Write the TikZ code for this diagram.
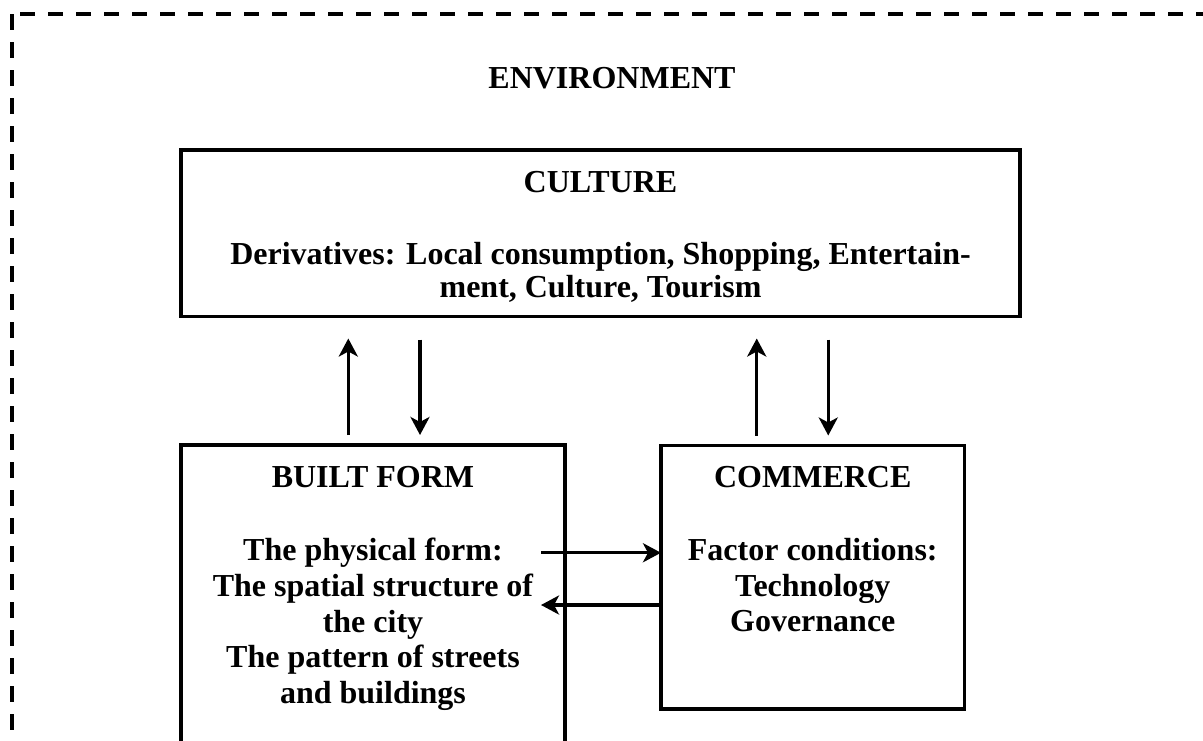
\documentclass[tikz,border=0pt]{standalone}
\usepackage{fontspec}
\setmainfont{Liberation Serif}
\usetikzlibrary{arrows.meta,calc}
\begin{document}
\begin{tikzpicture}[x=1pt,y=-1pt,>={Stealth[length=18pt,width=19pt,inset=5pt]},
  box/.style={draw,line width=3.8pt,outer sep=0pt,inner sep=0pt},
  txt/.style={font=\fontsize{32}{35.75}\selectfont\bfseries,align=center,inner sep=0pt},
  arr/.style={->,line width=3.3pt}]
\useasboundingbox (0,0) rectangle (1203,740);
% environment frame
\draw[line width=4pt,dash pattern=on 15pt off 13pt] (20,14) -- (1230,14);
\draw[line width=4pt,dash pattern=on 16pt off 12pt] (12,14) -- (12,760);
\node[txt,anchor=base] (env) at (612,88) {ENVIRONMENT};
% boxes
\node[box,minimum width=839pt,minimum height=166.5pt] (culture) at (600.5,233.25) {};
\node[box,minimum width=384pt,minimum height=335pt] (built) at (373,612.5) {};
\node[box,minimum width=303.5pt,minimum height=263.5pt] (commerce) at (812.75,577.25) {};
% texts
\node[txt,anchor=base] (culture title) at (600.5,192) {CULTURE};
\node[txt,anchor=north,font=\fontsize{32}{33}\selectfont\bfseries] (culture text) at (600.5,242)
  {Derivatives: Local consumption, Shopping, Entertain-\\ment, Culture, Tourism};
\node[txt,anchor=base] (built title) at (373,487) {BUILT FORM};
\node[txt,anchor=north] (built text) at (373,538)
  {The physical form:\\The spatial structure of\\the city\\The pattern of streets\\and buildings};
\node[txt,anchor=base] (commerce title) at (812.75,487) {COMMERCE};
\node[txt,anchor=north] (commerce text) at (812.75,538)
  {Factor conditions:\\Technology\\Governance};
% arrows between culture and the lower boxes
\draw[arr,shorten <=10pt,shorten >=22pt] ([xshift=-24.7pt]built.north) -- ($(built.north |- culture.south)+(-24.7,0)$);
\draw[arr,shorten <=23pt,shorten >=10pt] ($(built.north |- culture.south)+(47,0)$) -- ([xshift=47pt]built.north);
\draw[arr,shorten <=10pt,shorten >=22pt] ([xshift=-56pt]commerce.north) -- ($(commerce.north |- culture.south)+(-56,0)$);
\draw[arr,shorten <=23pt,shorten >=10pt] ($(commerce.north |- culture.south)+(15.5,0)$) -- ([xshift=15.5pt]commerce.north);
% arrows between built form and commerce
\draw[arr] ($(built.east |- commerce.west)+(-24,-24.5)$) -- ([yshift=24.5pt]commerce.west);
\draw[arr] ([yshift=-27.75pt]commerce.west) -- ($(built.east |- commerce.west)+(-24,27.75)$);
\end{tikzpicture}
\end{document}
